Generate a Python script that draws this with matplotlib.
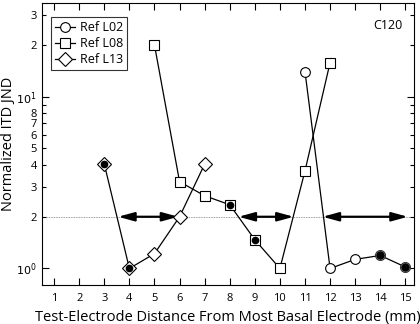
import matplotlib.pyplot as plt
import numpy as np
from matplotlib.ticker import FixedLocator, FixedFormatter

plt.rcParams['font.family'] = ['Open Sans', 'DejaVu Sans']

## Data
x_l02 = [11, 12, 13, 14, 15]
y_l02 = [14.0, 1.0, 1.13, 1.19, 1.02]
x_l08 = [5, 6, 7, 8, 9, 10, 11, 12]
y_l08 = [20.0, 3.2, 2.65, 2.35, 1.47, 1.0, 3.7, 15.8]
x_l13 = [3, 4, 5, 6, 7]
y_l13 = [4.05, 1.0, 1.22, 2.0, 4.05]

# filled (significant) points
x_fill = [3, 4, 8, 9]
y_fill = [4.05, 1.0, 2.35, 1.47]
x_fill_c = [14, 15]
y_fill_c = [1.19, 1.02]

# arrow spans at JND = 2
arrow_spans = [(3.55, 5.95), (8.35, 10.55), (11.7, 15.1)]
ref_level = 2

fig, ax = plt.subplots(figsize=(4.2, 3.24), dpi=100)
fig.subplots_adjust(left=0.099, right=0.986, bottom=0.12, top=0.99)

ax.plot(x_l02, y_l02, color='black', lw=0.9, marker='o', ms=7,
        mfc='white', mec='black', mew=0.8, label='Ref L02', zorder=3)
ax.plot(x_l08, y_l08, color='black', lw=0.9, marker='s', ms=6.5,
        mfc='white', mec='black', mew=0.8, label='Ref L08', zorder=3)
ax.plot(x_l13, y_l13, color='black', lw=0.9, marker='D', ms=7,
        mfc='white', mec='black', mew=0.8, label='Ref L13', zorder=3)
ax.plot(x_fill, y_fill, 'o', color='black', ms=4.5, zorder=4)
ax.plot(x_fill_c, y_fill_c, 'o', color='black', ms=6.5, mec='#555555',
        mew=0.8, zorder=4)

ax.axhline(ref_level, color='grey', lw=0.6, ls=(0, (1, 1)), zorder=1)
for a, b in arrow_spans:
    ax.annotate('', xy=(b, ref_level), xytext=(a, ref_level),
                arrowprops=dict(arrowstyle='<|-|>,head_length=0.8,head_width=0.22',
                                color='black', lw=1.6,
                                mutation_scale=12, shrinkA=0, shrinkB=0),
                zorder=2)

ax.set_yscale('log')
ax.set_xlim(0.5, 15.35)
ax.set_ylim(0.8, 35)
ax.set_xticks(range(1, 16))

major = [1, 10]
minor = [2, 3, 4, 5, 6, 7, 8, 9, 20, 30]
minor_labels = ['2', '3', '4', '5', '6', '7', '8', '', '2', '3']
ax.yaxis.set_major_locator(FixedLocator(major))
ax.set_yticklabels(['$10^0$', '$10^1$'])
ax.yaxis.set_minor_locator(FixedLocator(minor))
ax.yaxis.set_minor_formatter(FixedFormatter(minor_labels))

ax.tick_params(which='both', direction='in', top=True, right=True,
               labelsize=8)
ax.tick_params(which='major', length=5, width=0.8)
ax.tick_params(which='minor', length=3, width=0.8)
ax.tick_params(axis='x', pad=6)

ax.set_xlabel('Test-Electrode Distance From Most Basal Electrode (mm)',
              fontsize=10.5)
ax.set_ylabel('Normalized ITD JND', fontsize=10.5)
ax.yaxis.set_label_coords(-0.07, 0.5)

ax.text(0.97, 0.92, 'C120', transform=ax.transAxes, ha='right', va='center',
        fontsize=9)
ax.legend(loc='upper left', fontsize=9, frameon=True, fancybox=False,
          edgecolor='black', handlelength=1.6, handletextpad=0.4,
          borderpad=0.3, labelspacing=0.25, borderaxespad=0,
          bbox_to_anchor=(0.025, 0.95))
ax.get_legend().get_frame().set_linewidth(0.8)

fig.savefig('out.png', dpi=100)
